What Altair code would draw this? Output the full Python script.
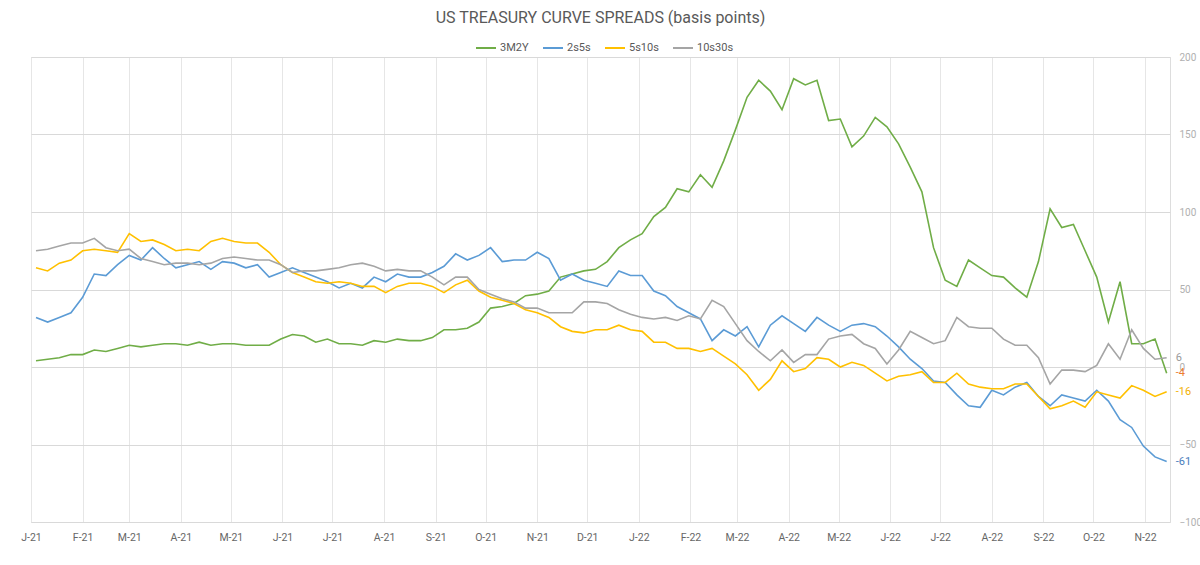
import altair as alt
import pandas as pd

# Weekly observations, Mondays from 4 Jan 2021 to 14 Nov 2022 (basis points)
weeks = pd.date_range("2021-01-04", periods=98, freq="7D")

series_names = ["3M2Y", "2s5s", "5s10s", "10s30s"]
series_colors = ["#70AD47", "#5B9BD5", "#FFC000", "#A5A5A5"]

spread_3m2y = [
    4, 5, 6, 8, 8, 11, 10, 12, 14, 13, 14, 15, 15, 14, 16, 14, 15,
    15, 14, 14, 14, 18, 21, 20, 16, 18, 15, 15, 14, 17, 16, 18, 17,
    17, 19, 24, 24, 25, 29, 38, 39, 41, 46, 47, 49, 58, 60, 62, 63, 68,
    77, 82, 86, 97, 103, 115, 113, 124, 116, 133, 153, 174, 185, 178, 166, 186,
    182, 185, 159, 160, 142, 149, 161, 155, 144, 129, 113, 77, 56, 52, 69, 64,
    59, 58, 51, 45, 68, 102, 90, 92, 75, 58, 29, 55, 15, 15, 18, -4,
]
spread_2s5s = [
    32, 29, 32, 35, 45, 60, 59, 66, 72, 69, 77, 70, 64, 66, 68, 63, 68,
    67, 64, 66, 58, 61, 64, 61, 58, 55, 51, 54, 51, 58, 55, 60, 58,
    58, 61, 65, 73, 69, 72, 77, 68, 69, 69, 74, 70, 56, 60, 56, 54, 52,
    62, 59, 59, 49, 46, 39, 35, 31, 17, 24, 20, 26, 13, 27, 33, 28,
    23, 32, 27, 23, 27, 28, 26, 20, 13, 5, -1, -9, -10, -18, -25, -26,
    -15, -18, -13, -10, -19, -25, -18, -20, -22, -15, -22, -34, -39, -51, -58, -61,
]
spread_5s10s = [
    64, 62, 67, 69, 75, 76, 75, 74, 86, 81, 82, 79, 75, 76, 75, 81, 83,
    81, 80, 80, 74, 66, 61, 58, 55, 54, 55, 54, 52, 52, 48, 52, 54,
    54, 52, 48, 53, 56, 49, 45, 43, 41, 37, 35, 32, 26, 23, 22, 24, 24,
    27, 24, 23, 16, 16, 12, 12, 10, 12, 7, 2, -5, -15, -8, 4, -3,
    -1, 6, 5, 0, 3, 1, -4, -9, -6, -5, -3, -10, -10, -4, -11, -13,
    -14, -14, -11, -11, -19, -27, -25, -22, -26, -16, -18, -20, -12, -15, -19, -16,
]
spread_10s30s = [
    75, 76, 78, 80, 80, 83, 77, 75, 76, 70, 68, 66, 67, 67, 66, 67, 70,
    71, 70, 69, 69, 66, 61, 62, 62, 63, 64, 66, 67, 65, 62, 63, 62,
    62, 58, 53, 58, 58, 50, 47, 44, 42, 38, 38, 35, 35, 35, 42, 42, 41,
    37, 34, 32, 31, 32, 30, 33, 31, 43, 39, 28, 17, 10, 4, 11, 3,
    8, 8, 18, 20, 21, 15, 12, 2, 11, 23, 19, 15, 17, 32, 26, 25,
    25, 18, 14, 14, 6, -11, -2, -2, -3, 1, 15, 5, 24, 12, 5, 6,
]

# End-of-series value labels (the 3M2Y one is printed in orange)
end_label_colors = ["#ED7D31", "#4A7EBB", "#F2B000", "#999999"]

all_series = [spread_3m2y, spread_2s5s, spread_5s10s, spread_10s30s]
rows = []
for name, values in zip(series_names, all_series):
    for d, v in zip(weeks, values):
        rows.append({"date": d, "series": name, "value": v})
df = pd.DataFrame(rows)

ends = pd.DataFrame({
    "date": [weeks[-1]] * 4,
    "value": [s[-1] for s in all_series],
    "label": [str(s[-1]) for s in all_series],
    "tcolor": end_label_colors,
})

FONT = "Roboto"

x_enc = alt.X(
    "date:T",
    scale=alt.Scale(domain=[alt.DateTime(year=2021, month=1, date=1),
                            alt.DateTime(year=2022, month=11, date=16)]),
    axis=alt.Axis(
        title=None,
        tickCount={"interval": "month", "step": 1},
        labelExpr="slice(timeFormat(datum.value, '%B'), 0, 1) + '-' + timeFormat(datum.value, '%y')",
        grid=True, gridColor="#e6e6e6", gridWidth=1,
        domain=False, ticks=False,
        labelPadding=10, labelFontSize=10.5, labelColor="#666666", labelFont=FONT,
        labelFlush=False, labelOverlap=False,
    ),
)
y_enc = alt.Y(
    "value:Q",
    scale=alt.Scale(domain=[-100, 200], nice=False, zero=False),
    axis=alt.Axis(
        title=None, orient="right",
        values=[-100, -50, 0, 50, 100, 150, 200],
        grid=True, gridColor="#d9d9d9", gridWidth=1,
        domain=False, ticks=False,
        labelPadding=9, labelFontSize=10, labelColor="#b0b0b0", labelFont=FONT,
        labelAlign="left", labelFlush=False,
    ),
)

lines = alt.Chart(df).mark_line(strokeWidth=1.6).encode(
    x=x_enc,
    y=y_enc,
    color=alt.Color(
        "series:N",
        scale=alt.Scale(domain=series_names, range=series_colors),
        sort=series_names,
        legend=alt.Legend(
            title=None, orient="none", legendX=444, legendY=-20,
            direction="horizontal", symbolType="stroke", symbolSize=400,
            symbolStrokeWidth=2, labelFontSize=11, labelColor="#595959",
            labelFont=FONT, columnPadding=10, labelOffset=3,
        ),
    ),
    detail="series:N",
)

labels = alt.Chart(ends).mark_text(
    align="left", baseline="middle", dx=9, fontSize=11, font=FONT
).encode(
    x="date:T",
    y="value:Q",
    text="label:N",
    color=alt.Color("tcolor:N", scale=None),
)

chart = (
    alt.layer(lines, labels)
    .resolve_scale(color="independent")
    .properties(
        width=1139,
        height=465,
        autosize=alt.AutoSizeParams(type="none"),
        padding={"left": 31, "top": 57, "right": 30, "bottom": 43},
        title=alt.TitleParams(
            "US TREASURY CURVE SPREADS (basis points)",
            fontSize=16, font=FONT, fontWeight="normal", color="#595959",
            anchor="middle", offset=11,
        ),
    )
    .configure_view(stroke=None)
    .configure(background="white")
)

chart.save("out.html", embed_options={"renderer": "svg", "actions": False})
